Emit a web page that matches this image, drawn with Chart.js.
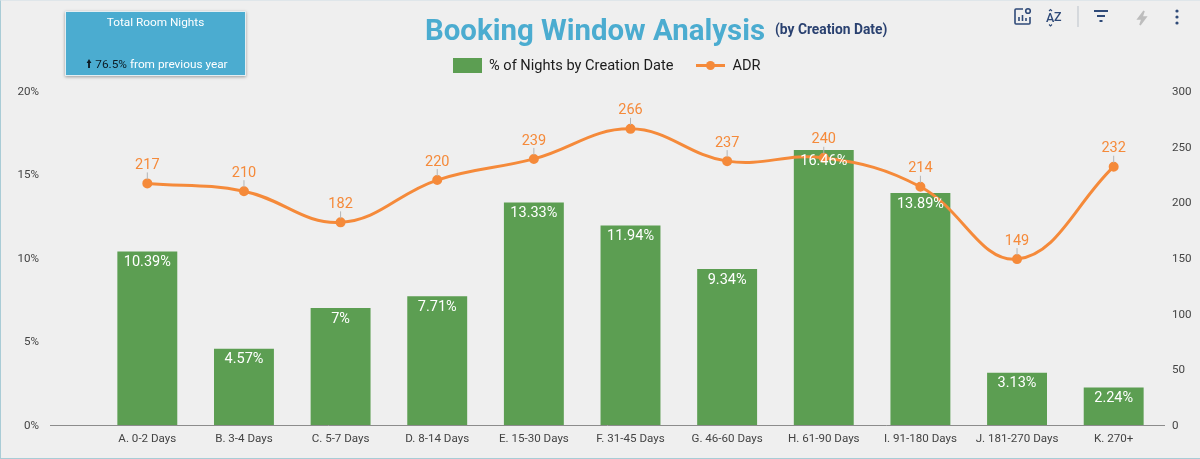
<!DOCTYPE html>
<html>
<head>
<meta charset="utf-8">
<title>Booking Window Analysis</title>
<script src="https://cdn.jsdelivr.net/npm/chart.js@4"></script>
<style>
    html, body { margin: 0; padding: 0; }
    body { width: 1200px; height: 459px; overflow: hidden; background: #efefef; font-family: Roboto, sans-serif; position: relative; }
    #frame { position: absolute; left: 0; top: 0; width: 1200px; height: 459px; box-sizing: border-box; border-left: 1px solid #a9ccd6; border-top: 1px solid #dfe6ea; border-bottom: 1px solid #a9ccd6; pointer-events: none; }
    #wrap { position: absolute; left: 0; top: 0; width: 1200px; height: 459px; }
    #card { position: absolute; left: 65px; top: 11px; width: 181px; height: 65px; background: #4bacd0; border: 1px solid #e4eef2; box-sizing: border-box; box-shadow: 0 1px 3px rgba(0,0,0,.35); color: #fff; font-size: 11.8px; text-align: center; }
    #card .head { position: absolute; left: 0; right: 0; top: 3px; }
    #card .foot { position: absolute; left: 3px; right: 0; top: 43px; }
    #card .foot b { font-weight: 400; color: #0c1a22; }
    #title { position: absolute; left: 425px; top: 11px; font-size: 29.4px; font-weight: 700; color: #4bacd0; white-space: nowrap; line-height: 38px; }
    #subtitle { position: absolute; left: 775px; top: 19px; font-size: 13.8px; font-weight: 700; color: #2a4170; white-space: nowrap; line-height: 20px; }
    #legend { position: absolute; left: 453px; top: 55px; height: 20px; display: flex; align-items: center; font-size: 14.6px; color: #1c1c1c; white-space: nowrap; }
    #legend .box { width: 29px; height: 15px; margin-right: 7px; }
    #legend .ln { width: 29px; height: 3px; margin: 0 7px 0 23px; position: relative; }
    #legend .ln i { position: absolute; left: 10px; top: -3px; width: 9px; height: 9px; border-radius: 50%; background: inherit; }
    #tools { position: absolute; left: 1010px; top: 5px; }
</style>
</head>
<body>
<div id="wrap"><canvas id="myChart" width="1200" height="459"></canvas></div>
<div id="card">
    <div class="head">Total Room Nights</div>
    <div class="foot"><b>&#129049; 76.5%</b> from previous year</div>
</div>
<div id="title">Booking Window Analysis</div>
<div id="subtitle">(by Creation Date)</div>
<div id="legend"></div>
<svg id="tools" width="180" height="24" viewBox="0 0 180 24" fill="none" stroke="#2f4a78" stroke-width="1.6">
    <path d="M13 4H6a1 1 0 0 0-1 1v13a1 1 0 0 0 1 1h13a1 1 0 0 0 1-1v-6"/>
    <path d="M9 16v-4M12.500 16v-6M16 16v-3"/>
    <circle cx="18" cy="6" r="2.300"/>
    <text x="36" y="17" font-family="Roboto" font-size="12.500" font-weight="500" fill="#2f4a78" stroke="none">A</text>
    <text x="44" y="16" font-family="Roboto" font-size="12.500" font-weight="500" fill="#2f4a78" stroke="none">Z</text>
    <path d="M39 6l1.500-1.500L42 6M39 19.500l1.500 1.500L42 19.500" stroke-width="1.100"/>
    <path d="M68 1v21" stroke="#cfd3d8"/>
    <path d="M84 6h14M87 11h8M89.500 16h3" stroke-width="1.800"/>
    <path d="M134 6l-6 8h4l-2 6 6-8h-4z" fill="#bdbdbd" stroke="#bdbdbd"/>
    <circle cx="167" cy="6" r="1.600" fill="#2f4a78" stroke="none"/>
    <circle cx="167" cy="12" r="1.600" fill="#2f4a78" stroke="none"/>
    <circle cx="167" cy="18" r="1.600" fill="#2f4a78" stroke="none"/>
</svg>
<div id="frame"></div>

<script>
const categories = ['A. 0-2 Days', 'B. 3-4 Days', 'C. 5-7 Days', 'D. 8-14 Days', 'E. 15-30 Days', 'F. 31-45 Days',
    'G. 46-60 Days', 'H. 61-90 Days', 'I. 91-180 Days', 'J. 181-270 Days', 'K. 270+'];
const nightsPct = [10.39, 4.57, 7, 7.71, 13.33, 11.94, 9.34, 16.46, 13.89, 3.13, 2.24];
const adr = [217, 210, 182, 220, 239, 266, 237, 240, 214, 149, 232];
const pctTicks = [0, 5, 10, 15, 20];
const adrTicks = [0, 50, 100, 150, 200, 250, 300];

const green = '#5c9e52';
const orange = '#f58a3a';
const tickColor = '#444444';

// baseline starts left of the first category, so the axis border can't do it
const baseline = {
    id: 'baseline',
    afterDatasetsDraw(chart) {
        const { ctx, chartArea, scales } = chart;
        const y = scales.y.getPixelForValue(0);
        ctx.save();
        ctx.strokeStyle = '#8c8c8c';
        ctx.lineWidth = 1;
        ctx.beginPath();
        ctx.moveTo(50, y + 0.5);
        ctx.lineTo(chartArea.right + 3, y + 0.5);
        ctx.stroke();
        ctx.restore();
    }
};

const valueLabels = {
    id: 'valueLabels',
    afterDraw(chart) {
        const { ctx } = chart;
        const lineMeta = chart.getDatasetMeta(chart.data.datasets.findIndex(d => d.type === 'line'));
        const barMeta = chart.getDatasetMeta(chart.data.datasets.findIndex(d => d.type === 'bar'));
        ctx.save();
        ctx.textAlign = 'center';
        ctx.textBaseline = 'middle';
        ctx.font = '14.5px Roboto';

        barMeta.data.forEach((bar, i) => {
            ctx.fillStyle = '#ffffff';
            ctx.fillText(nightsPct[i] + '%', bar.x, bar.y + 11);
        });

        lineMeta.data.forEach((pt, i) => {
            ctx.strokeStyle = '#b5b5b5';
            ctx.lineWidth = 1;
            ctx.beginPath();
            ctx.moveTo(pt.x, pt.y - 4);
            ctx.lineTo(pt.x, pt.y - 11);
            ctx.stroke();
            ctx.fillStyle = orange;
            ctx.fillText(adr[i], pt.x, pt.y - 18);
        });
        ctx.restore();
    }
};

const datasets = [
    {
        type: 'line',
        label: 'ADR',
        data: adr,
        yAxisID: 'y1',
        order: 0,
        borderColor: orange,
        backgroundColor: orange,
        borderWidth: 3,
        pointRadius: 3.5,
        tension: 0.4
    },
    {
        type: 'bar',
        label: '% of Nights by Creation Date',
        data: nightsPct,
        yAxisID: 'y',
        order: 1,
        backgroundColor: green,
        barPercentage: 0.62,
        categoryPercentage: 1
    }
];

// tick padding also counts as vertical padding on y axes, so clear that here
function fixYAxis(scale, width) {
    scale.width = width;
    scale.paddingTop = 0;
    scale.paddingBottom = 0;
}

Chart.defaults.font.family = 'Roboto';
const chart = new Chart(document.getElementById('myChart').getContext('2d'), {
    type: 'bar',
    data: { labels: categories, datasets: datasets },
    plugins: [baseline, valueLabels],
    options: {
        responsive: false,
        animation: false,
        layout: { padding: { top: 91, bottom: 0 } },
        plugins: { legend: { display: false }, tooltip: { enabled: false }, title: { display: false } },
        scales: {
            x: {
                grid: { display: false, tickLength: 7 },
                border: { display: false },
                afterFit(scale) { scale.height = 34; },
                ticks: { color: tickColor, font: { size: 11.6 }, padding: 0, maxRotation: 0, autoSkip: false }
            },
            y: {
                position: 'left',
                min: 0,
                max: 20,
                grid: { display: false, drawTicks: false },
                border: { display: false },
                afterBuildTicks(scale) { scale.ticks = pctTicks.map(v => ({ value: v })); },
                afterFit(scale) { fixYAxis(scale, 99); },
                ticks: { color: tickColor, font: { size: 11.6 }, padding: 60, labelOffset: 1, callback: v => v + '%' }
            },
            y1: {
                position: 'right',
                min: 0,
                max: 300,
                grid: { display: false, drawTicks: false },
                border: { display: false },
                afterBuildTicks(scale) { scale.ticks = adrTicks.map(v => ({ value: v })); },
                afterFit(scale) { fixYAxis(scale, 38); },
                ticks: { color: tickColor, font: { size: 11.6 }, padding: 10, labelOffset: 1 }
            }
        }
    }
});

// legend built from the datasets
const legendEl = document.getElementById('legend');
[datasets[1], datasets[0]].forEach(ds => {
    const mark = document.createElement('span');
    if (ds.type === 'bar') {
        mark.className = 'box';
        mark.style.background = ds.backgroundColor;
    } else {
        mark.className = 'ln';
        mark.style.background = ds.borderColor;
        mark.appendChild(document.createElement('i'));
    }
    const text = document.createElement('span');
    text.textContent = ds.label;
    legendEl.appendChild(mark);
    legendEl.appendChild(text);
});
</script>
</body>
</html>
